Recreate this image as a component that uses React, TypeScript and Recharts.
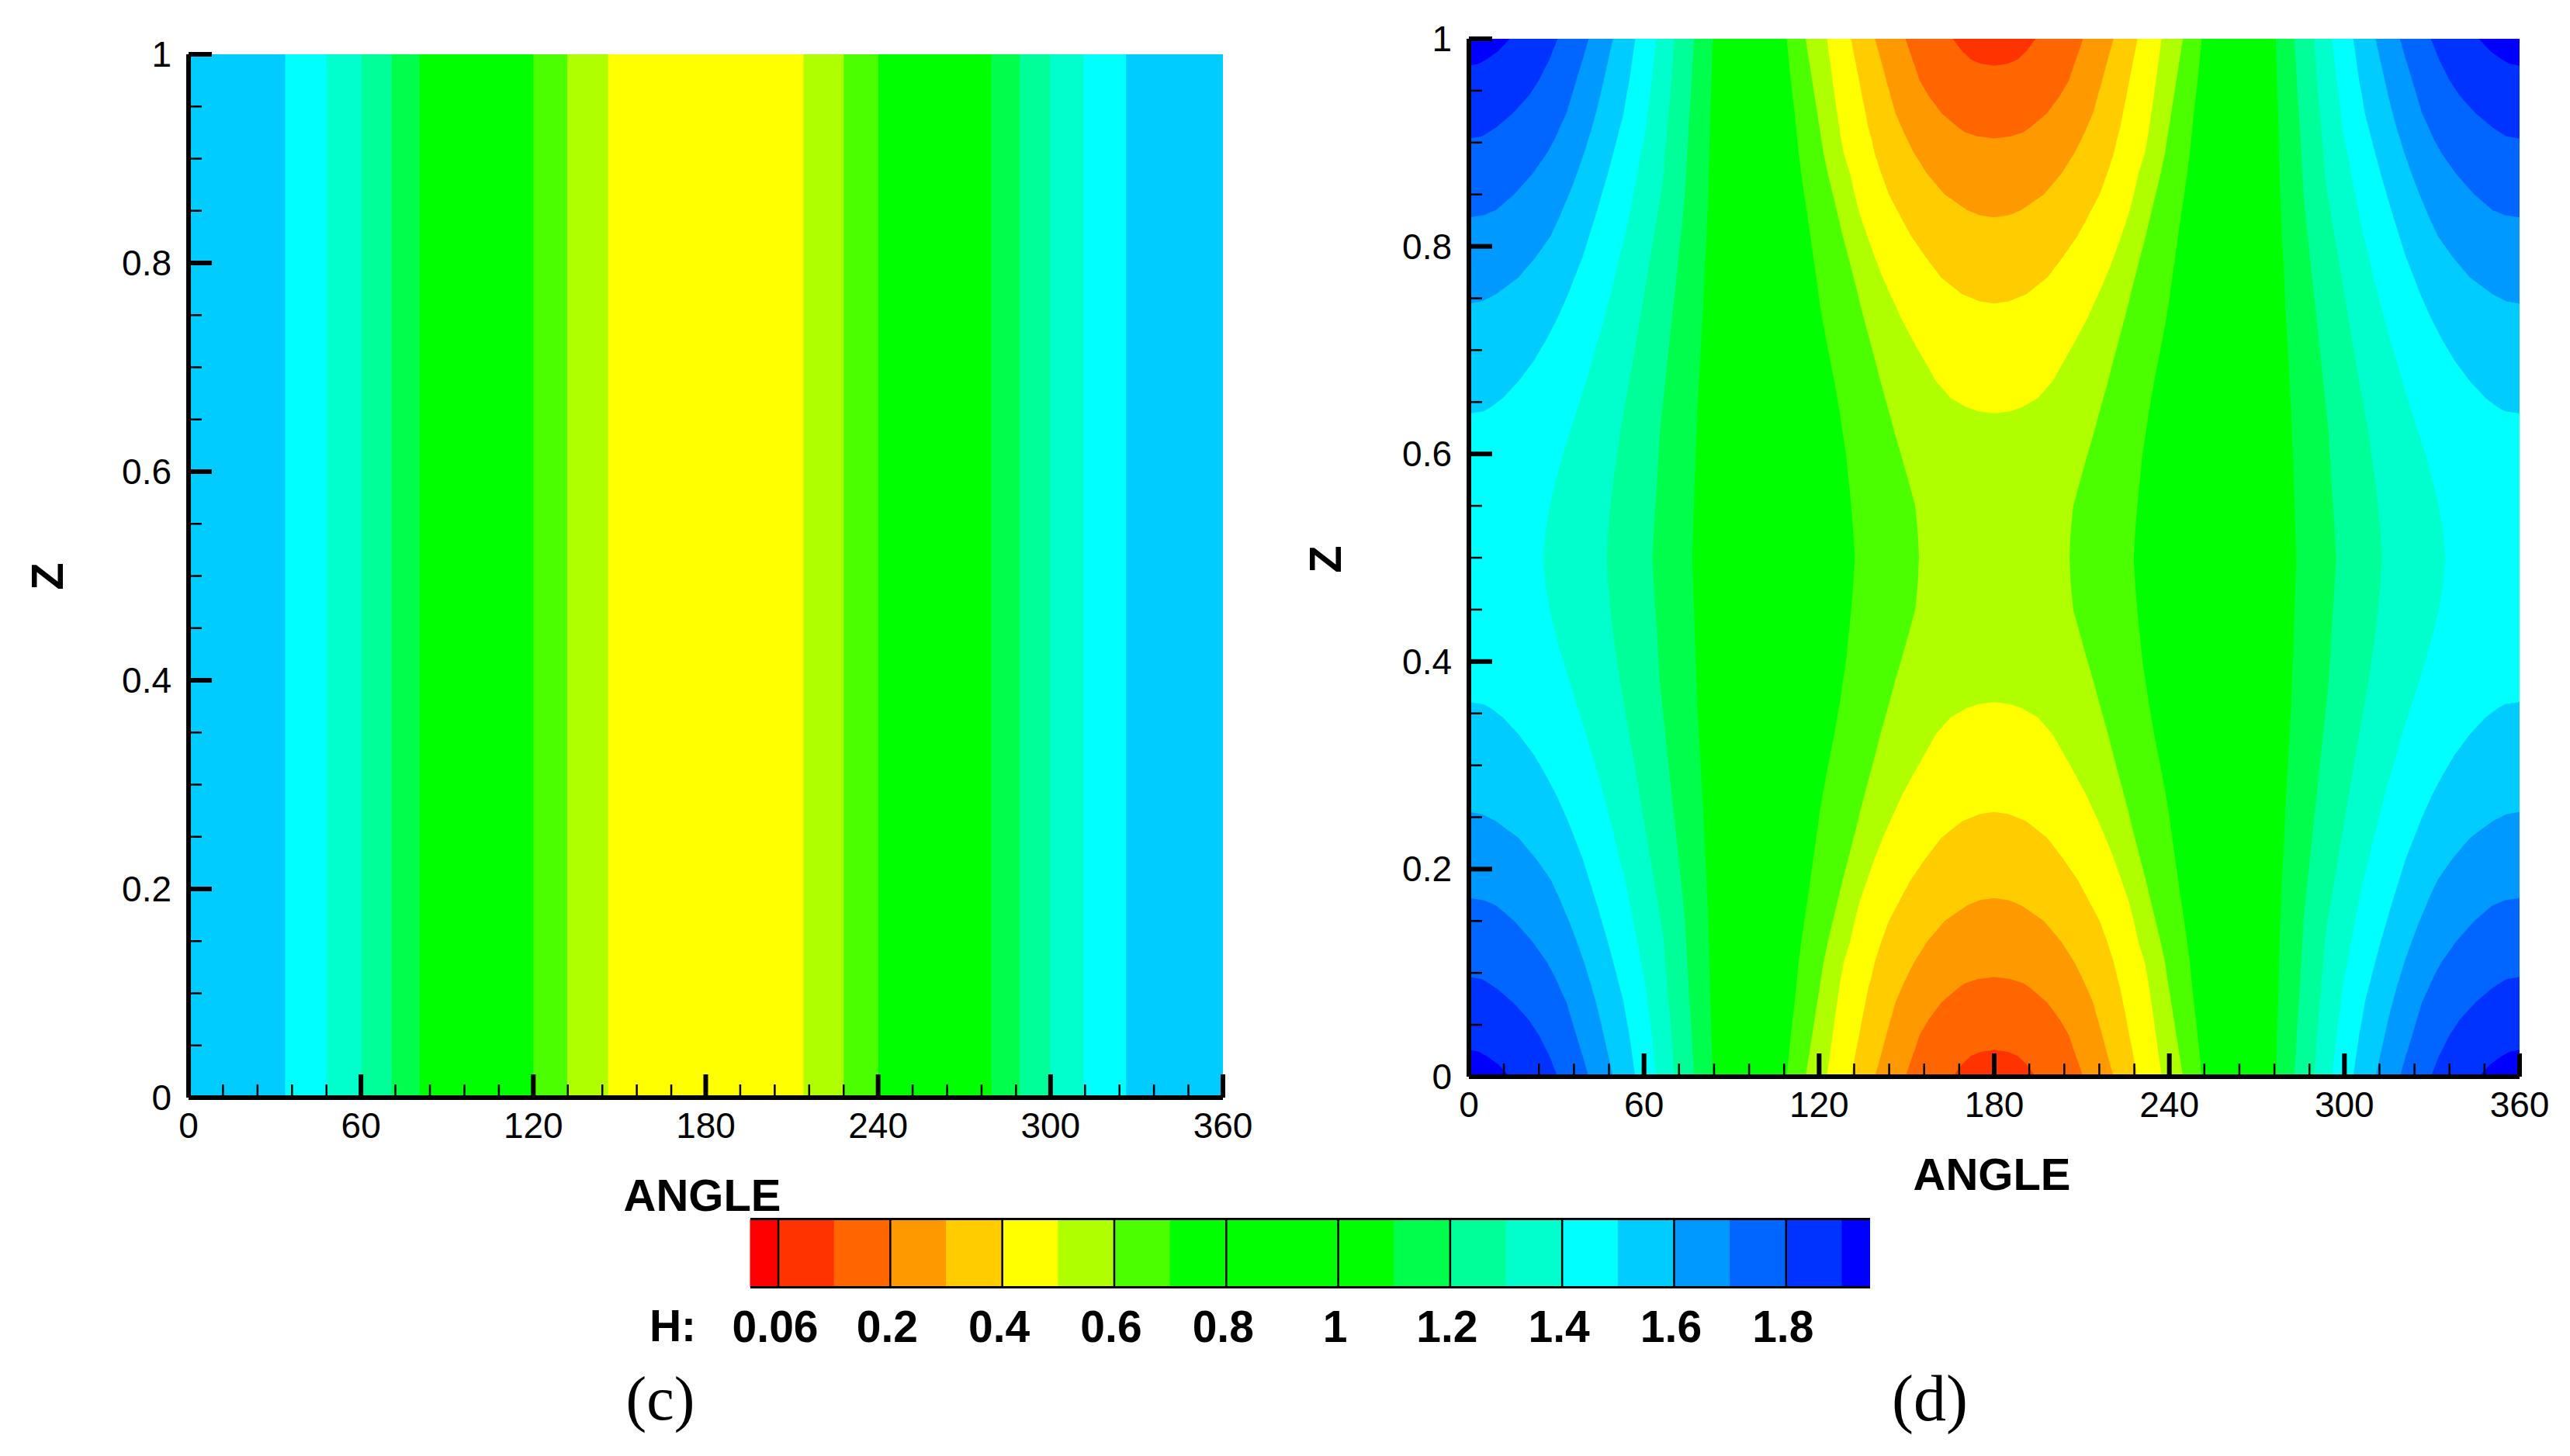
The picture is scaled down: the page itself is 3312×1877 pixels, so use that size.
import { Area, Bar, BarChart, ComposedChart, ReferenceLine, XAxis, YAxis } from 'recharts';

const angleTicks = [0, 12, 24, 36, 48, 60, 72, 84, 96, 108, 120, 132, 144, 156, 168, 180, 192, 204, 216, 228, 240, 252, 264, 276, 288, 300, 312, 324, 336, 348, 360];
const angleMajor = [0, 60, 120, 180, 240, 300, 360];
const zTicks = [0, 0.05, 0.1, 0.15, 0.2, 0.25, 0.3, 0.35, 0.4, 0.45, 0.5, 0.55, 0.6, 0.65, 0.7, 0.75, 0.8, 0.85, 0.9, 0.95, 1];
const zMajor = [0, 0.2, 0.4, 0.6, 0.8, 1];

// panel (c): straight bands, upper angle of each band, left to right
const plainRows = [0, 1];
const plainEdges = [33.6, 48, 60.2, 70.7, 80.4, 120, 131.8, 146, 214, 228, 240, 279.4, 289.3, 299.8, 311.5, 326.3, 360];
const plainColors = ['#00ccff', '#00ffff', '#00ffcc', '#00ff99', '#00ff4c', '#00ff00', '#4cff00', '#b0ff00', '#ffff00', '#b0ff00', '#4cff00', '#00ff00', '#00ff4c', '#00ff99', '#00ffcc', '#00ffff', '#00ccff'];

// panel (d): contour lines read at these z rows, lower half only (the plot mirrors about z = 0.5 and angle = 180)
const zRows = [0, 0.012, 0.02, 0.024, 0.026, 0.04, 0.055, 0.072, 0.085, 0.09, 0.094, 0.096, 0.11, 0.13, 0.15, 0.165, 0.17, 0.172, 0.19, 0.21, 0.23, 0.246, 0.253, 0.255, 0.27, 0.29, 0.31, 0.33, 0.346, 0.355, 0.359, 0.361, 0.38, 0.4, 0.425, 0.45, 0.475, 0.5];
const lineA = [14, 10, 6, 3.5, 0, 0, 0, 0, 0, 0, 0, 0, 0, 0, 0, 0, 0, 0, 0, 0, 0, 0, 0, 0, 0, 0, 0, 0, 0, 0, 0, 0, 0, 0, 0, 0, 0, 0];
const lineB = [30.4, 28.7, 27.6, 26.9, 26.5, 24, 20.5, 15, 9.5, 6.8, 4.5, 0, 0, 0, 0, 0, 0, 0, 0, 0, 0, 0, 0, 0, 0, 0, 0, 0, 0, 0, 0, 0, 0, 0, 0, 0, 0, 0];
const lineC = [41, 39.8, 39, 38.5, 38.3, 36.8, 35.2, 33.4, 31.2, 30.5, 29.8, 29.5, 26.8, 21.8, 15.5, 9.3, 5, 0, 0, 0, 0, 0, 0, 0, 0, 0, 0, 0, 0, 0, 0, 0, 0, 0, 0, 0, 0, 0];
const lineD = [49.4, 48.4, 47.8, 47.5, 47.3, 46.2, 45, 43.5, 42.2, 41.7, 41.2, 41, 39.5, 37, 34.3, 32, 31.3, 31, 28, 23, 17, 9.3, 4.5, 0, 0, 0, 0, 0, 0, 0, 0, 0, 0, 0, 0, 0, 0, 0];
const lineE = [57, 56.4, 56, 55.8, 55.7, 55, 54, 53, 51.8, 51.3, 51, 50.8, 49.5, 47.6, 45.5, 44, 43.4, 43.2, 41.2, 39, 36.2, 34, 32.9, 32.6, 30.2, 26.5, 22.3, 17, 11.7, 7.5, 5, 0, 0, 0, 0, 0, 0, 0];
const lineF = [64.3, 63.8, 63.4, 63.3, 63.2, 62.7, 62, 61.2, 60.7, 60.4, 60.1, 60, 59, 57.7, 56.3, 55.3, 54.9, 54.8, 53.4, 51.6, 50, 48.5, 47.9, 47.7, 46.3, 44.3, 42.2, 40.2, 38.4, 37.4, 36.9, 36.7, 34.5, 32.3, 29.8, 27.7, 26.2, 25.4];
const lineG = [70.4, 70.1, 69.9, 69.8, 69.8, 69.4, 69, 68.4, 68, 67.9, 67.8, 67.7, 67.2, 66.8, 65.8, 64.8, 64.6, 64.5, 63.4, 62.2, 61, 60, 59.6, 59.5, 58.6, 57.4, 56.2, 54.9, 53.9, 53.4, 53.1, 53, 51.8, 50.8, 49.5, 48.5, 47.7, 47.2];
const lineH = [77.1, 76.9, 76.7, 76.6, 76.6, 76.3, 76, 75.6, 75.3, 75.2, 75.1, 75.1, 74.8, 74.4, 74, 73.5, 73.4, 73.3, 72.6, 71.8, 71.1, 70.5, 70.2, 70.1, 69.5, 68.8, 68, 67.3, 66.7, 66.3, 66.2, 66.1, 65.4, 65, 64.5, 63.9, 63.3, 62.8];
const lineI = [83.5, 83.4, 83.3, 83.2, 83.2, 83.1, 82.9, 82.7, 82.6, 82.6, 82.5, 82.5, 82.4, 82.2, 82, 81.8, 81.7, 81.7, 81.4, 81, 80.7, 80.4, 80.3, 80.3, 80, 79.6, 79.2, 78.8, 78.5, 78.3, 78.2, 78.2, 78, 77.7, 77.4, 77.1, 76.8, 76.5];
const lineJ = [108.9, 109.3, 109.6, 109.7, 109.8, 110.3, 110.9, 111.6, 112.1, 112.3, 112.4, 112.5, 113, 113.9, 114.9, 115.7, 116, 116.1, 117, 118, 119, 119.8, 120.1, 120.2, 121.1, 122.4, 123.8, 125.2, 126.2, 126.7, 127, 127.1, 128.1, 129.2, 130.1, 131, 131.7, 132.2];
const lineK = [115.4, 116, 116.5, 116.7, 116.8, 117.6, 118.4, 119.4, 120.1, 120.4, 120.6, 120.7, 121.5, 123, 124.7, 126, 126.4, 126.6, 128.1, 130, 131.8, 133.3, 133.8, 134, 135.4, 137.3, 139.2, 141, 142.6, 143.5, 143.9, 144.1, 145.9, 148, 150.5, 152.9, 153.8, 154.2];
const lineL = [122.7, 123.2, 123.6, 123.8, 123.9, 124.6, 125.3, 126.2, 126.9, 127.1, 127.4, 127.5, 128.4, 130.6, 132.2, 133.5, 134.1, 134.3, 136.5, 139, 141.8, 144.3, 145.5, 145.8, 148.2, 152, 156, 160, 165, 170.5, 174.5, 180, 180, 180, 180, 180, 180, 180];
const lineM = [130.9, 131.7, 132.3, 132.6, 132.7, 133.7, 134.7, 135.9, 136.8, 137.3, 137.7, 137.9, 139, 141.3, 143.9, 146.7, 147.7, 148, 151.5, 156.4, 161.8, 169, 175, 180, 180, 180, 180, 180, 180, 180, 180, 180, 180, 180, 180, 180, 180, 180];
const lineN = [139.1, 140.3, 141.1, 141.5, 141.7, 143, 144.5, 146.2, 148.2, 149, 149.7, 150, 152.5, 157, 163, 170.7, 175, 180, 180, 180, 180, 180, 180, 180, 180, 180, 180, 180, 180, 180, 180, 180, 180, 180, 180, 180, 180, 180];
const lineO = [149.6, 151, 152, 152.5, 152.8, 154.4, 157.5, 162, 167.5, 170, 174.3, 180, 180, 180, 180, 180, 180, 180, 180, 180, 180, 180, 180, 180, 180, 180, 180, 180, 180, 180, 180, 180, 180, 180, 180, 180, 180, 180];
const lineP = [165.8, 169, 172, 175.3, 180, 180, 180, 180, 180, 180, 180, 180, 180, 180, 180, 180, 180, 180, 180, 180, 180, 180, 180, 180, 180, 180, 180, 180, 180, 180, 180, 180, 180, 180, 180, 180, 180, 180];
const contourLines = [lineA, lineB, lineC, lineD, lineE, lineF, lineG, lineH, lineI, lineJ, lineK, lineL, lineM, lineN, lineO, lineP];
const halfColors = ['#0000ff', '#0033ff', '#0066ff', '#0099ff', '#00ccff', '#00ffff', '#00ffcc', '#00ff99', '#00ff4c', '#00ff00', '#4cff00', '#b0ff00', '#ffff00', '#ffcc00', '#ff9900', '#ff6600'];
const peakColor = '#ff3300';

// colour bar
const legendWidths = [0.05, 0.1, 0.1, 0.1, 0.1, 0.1, 0.1, 0.1, 0.1, 0.1, 0.1, 0.1, 0.1, 0.1, 0.1, 0.1, 0.1, 0.1, 0.1, 0.1, 0.05];
const legendColors = ['#ff0000', '#ff3300', '#ff6600', '#ff9900', '#ffcc00', '#ffff00', '#b0ff00', '#4cff00', '#00ff00', '#00ff00', '#00ff00', '#00ff00', '#00ff4c', '#00ff99', '#00ffcc', '#00ffff', '#00ccff', '#0099ff', '#0066ff', '#0033ff', '#0000ff'];
const legendTicks = [0.05, 0.25, 0.45, 0.65, 0.85, 1.05, 1.25, 1.45, 1.65, 1.85];
const legendLabels = ['0.06', '0.2', '0.4', '0.6', '0.8', '1', '1.2', '1.4', '1.6', '1.8'];

const SANS = '"Liberation Sans", Arial, sans-serif';

const plainData = plainRows.map((z) => {
  const row: Record<string, number> = { z };
  plainEdges.forEach((e, i) => { row['e' + i] = e; });
  return row;
});

const contourRow = (z: number, i: number) => {
  const row: Record<string, number> = { z };
  const n = contourLines.length;
  contourLines.forEach((line, k) => {
    row['e' + k] = line[i];
    row['e' + (2 * n - 1 - k)] = 360 - line[i];
  });
  row['e' + 2 * n] = 360;
  return row;
};
const lower = zRows.map((z, i) => contourRow(z, i));
const upper = zRows.slice(0, -1).map((z, i) => contourRow(1 - z, i)).reverse();
const contourData = [...lower, ...upper];
const contourColors = [...halfColors, peakColor, ...[...halfColors].reverse()];

const legendRow: Record<string, number | string> = { name: 'H' };
legendWidths.forEach((w, i) => { legendRow['b' + i] = w; });

function AngleTick({ x, y, payload }: any) {
  const major = angleMajor.includes(payload.value);
  return (
    <g>
      <line x1={x} x2={x} y1={y} y2={y - (major ? 30 : 17)} stroke="#000" strokeWidth={major ? 6 : 2.5} />
      {major && (
        <text x={x} y={y + 52} textAnchor="middle" fontFamily={SANS} fontSize={46} fill="#000">{payload.value}</text>
      )}
    </g>
  );
}

function ZTick({ x, y, payload }: any) {
  const major = zMajor.includes(payload.value);
  return (
    <g>
      <line x1={x} x2={x + (major ? 30 : 17)} y1={y} y2={y} stroke="#000" strokeWidth={major ? 6 : 2.5} />
      {major && (
        <text x={x - 22} y={y + 16} textAnchor="end" fontFamily={SANS} fontSize={46} fill="#000">{payload.value}</text>
      )}
    </g>
  );
}

function LegendTick({ x, y, payload, index }: any) {
  return (
    <text x={x - 4} y={y + 70} textAnchor="middle" fontFamily={SANS} fontWeight="bold" fontSize={57} fill="#000">
      {legendLabels[index] ?? payload.value}
    </text>
  );
}

function Panel({ data, colors, width, height, top, yAxisWidth, right, xAxisHeight }: any) {
  const keys = colors.map((_: string, i: number) => i).reverse();
  return (
    <ComposedChart layout="vertical" width={width} height={height} data={data} margin={{ top, right, bottom: 0, left: 0 }}>
      {keys.map((i: number) => (
        <Area key={i} dataKey={'e' + i} type="linear" fill={colors[i]} fillOpacity={1} stroke="none" dot={false} activeDot={false} isAnimationActive={false} />
      ))}
      <XAxis type="number" domain={[0, 360]} ticks={angleTicks} interval={0} height={xAxisHeight} tickSize={0} tickMargin={0} tickLine={false} axisLine={{ stroke: '#000', strokeWidth: 6 }} tick={<AngleTick />} />
      <YAxis type="number" dataKey="z" domain={[0, 1]} reversed ticks={zTicks} interval={0} width={yAxisWidth} tickSize={0} tickMargin={0} tickLine={false} axisLine={{ stroke: '#000', strokeWidth: 6 }} tick={<ZTick />} />
    </ComposedChart>
  );
}

function Caption({ x, y, size, rotate = 0, serif = false, bold = true, children }: any) {
  return (
    <div
      style={{
        position: 'absolute',
        left: x,
        top: y,
        transform: `translate(-50%, -50%) rotate(${rotate}deg)`,
        fontFamily: serif ? '"Liberation Serif", serif' : SANS,
        fontWeight: bold ? 'bold' : 'normal',
        fontSize: size,
        lineHeight: 1,
        color: '#000',
        whiteSpace: 'nowrap',
      }}
    >
      {children}
    </div>
  );
}

export default function App() {
  return (
    <div style={{ position: 'absolute', left: 0, top: 0, width: 3312, height: 1877, background: '#fff', overflow: 'hidden' }}>
      <div style={{ position: 'absolute', left: 0, top: 0 }}>
        <Panel data={plainData} colors={plainColors} width={1700} height={1500} top={70} right={124} yAxisWidth={243} xAxisHeight={85} />
      </div>
      <div style={{ position: 'absolute', left: 1700, top: 0 }}>
        <Panel data={contourData} colors={contourColors} width={1612} height={1500} top={50} right={65} yAxisWidth={193} xAxisHeight={112} />
      </div>
      <div style={{ position: 'absolute', left: 867, top: 1560 }}>
        <BarChart layout="vertical" width={1543} height={200} data={[legendRow]} barCategoryGap={0} margin={{ top: 10.5, right: 0, bottom: 0, left: 100 }}>
          <YAxis type="category" dataKey="name" hide />
          {legendWidths.map((_, i) => (
            <Bar key={i} dataKey={'b' + i} stackId="h" fill={legendColors[i]} stroke={legendColors[i]} strokeWidth={1} isAnimationActive={false} />
          ))}
          <XAxis type="number" domain={[0, 2]} ticks={legendTicks} interval={0} height={100.5} tickSize={0} tickMargin={0} tickLine={false} axisLine={{ stroke: '#000', strokeWidth: 3 }} tick={<LegendTick />} />
          <XAxis xAxisId="top" orientation="top" type="number" domain={[0, 2]} height={1} ticks={[0, 2]} tickSize={0} tick={false} tickLine={false} axisLine={{ stroke: '#000', strokeWidth: 3 }} />
          {legendTicks.map((t) => (
            <ReferenceLine key={t} x={t} stroke="#000" strokeWidth={2.5} />
          ))}
        </BarChart>
      </div>
      <Caption x={905} y={1541} size={58}>ANGLE</Caption>
      <Caption x={2567} y={1514} size={58}>ANGLE</Caption>
      <Caption x={61} y={743} size={58} rotate={-90}>Z</Caption>
      <Caption x={1708} y={721} size={58} rotate={-90}>Z</Caption>
      <Caption x={867} y={1709} size={57}>H:</Caption>
      <Caption x={851} y={1803} size={80} serif bold={false}>(c)</Caption>
      <Caption x={2487} y={1803} size={84} serif bold={false}>(d)</Caption>
    </div>
  );
}
